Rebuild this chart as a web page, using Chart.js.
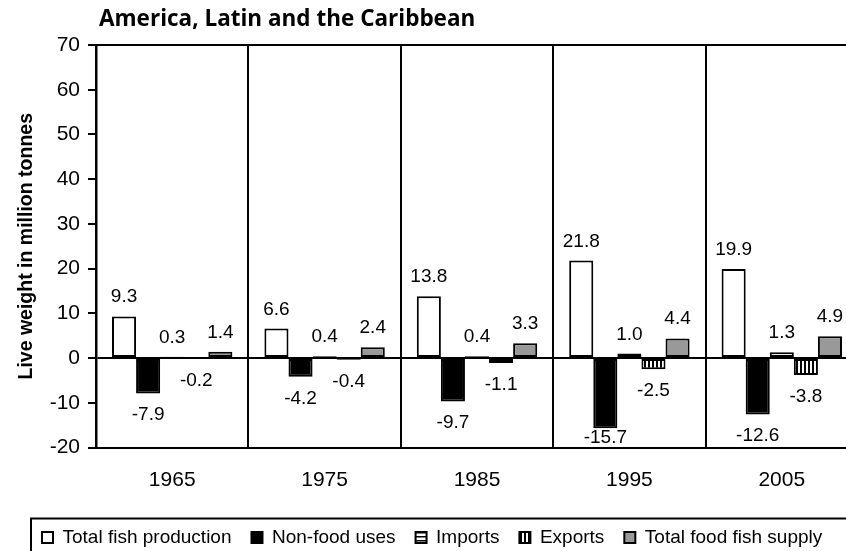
<!DOCTYPE html>
<html><head><meta charset="utf-8">
<script src="https://cdn.jsdelivr.net/npm/chart.js@4.4.0/dist/chart.umd.min.js"></script>
<style>
html,body{margin:0;padding:0;background:#fff;overflow:hidden;width:846px;height:551px;}
#wrap{position:absolute;left:0;top:0;width:900px;height:580px;}
#title{position:absolute;left:99px;top:3px;font-family:"Open Sans",sans-serif;font-weight:700;font-size:22.5px;color:#000;white-space:nowrap;line-height:30px;}
</style></head><body>
<div id="wrap"><canvas id="c"></canvas></div>
<div id="title">America, Latin and the Caribbean</div>
<script>
const years = ['1965', '1975', '1985', '1995', '2005'];
const totalProduction = [9.3, 6.6, 13.8, 21.8, 19.9];
const nonFoodUses = [-7.9, -4.2, -9.7, -15.7, -12.6];
const importsData = [0.3, 0.4, 0.4, 1.0, 1.3];
const exportsData = [-0.2, -0.4, -1.1, -2.5, -3.8];
const foodSupply = [1.4, 2.4, 3.3, 4.4, 4.9];
const seriesNames = ['Total fish production', 'Non-food uses', 'Imports', 'Exports', 'Total food fish supply'];
const yMin = -20, yMax = 70, yStep = 10;

Chart.defaults.font.family = "'Liberation Sans', Arial, sans-serif";
Chart.defaults.color = '#000';

const canvas = document.getElementById('c');
const mainCtx = canvas.getContext('2d');
function stripes(dir) {
  const p = document.createElement('canvas');
  p.width = 4; p.height = 4;
  const g = p.getContext('2d');
  g.fillStyle = '#fff'; g.fillRect(0, 0, 4, 4);
  g.fillStyle = '#000';
  if (dir === 'h') g.fillRect(0, 0, 4, 1.5); else g.fillRect(0, 0, 2, 4);
  return mainCtx.createPattern(p, 'repeat');
}
const hPattern = stripes('h');
const vPattern = stripes('v');

const fills = ['#ffffff', '#000000', hPattern, vPattern, '#999999'];
const values = [totalProduction, nonFoodUses, importsData, exportsData, foodSupply];

const frame = {
  id: 'frame',
  afterDraw(chart) {
    const {ctx, chartArea: a} = chart;
    ctx.save();
    ctx.strokeStyle = '#000';
    ctx.lineWidth = 2;
    ctx.beginPath();
    ctx.moveTo(a.left, a.top); ctx.lineTo(a.right, a.top); ctx.lineTo(a.right, a.bottom);
    ctx.stroke();
    const l = chart.legend;
    ctx.strokeRect(l.left + 9, l.top + 10.5, 2000, 300);
    ctx.restore();
  }
};

const dataLabels = {
  id: 'dataLabels',
  afterDatasetsDraw(chart) {
    const ctx = chart.ctx;
    const bottom = chart.chartArea.bottom;
    ctx.save();
    ctx.font = "19px 'Liberation Sans', Arial, sans-serif";
    ctx.fillStyle = '#000';
    ctx.textAlign = 'center';
    ctx.textBaseline = 'alphabetic';
    chart.data.datasets.forEach((ds, i) => {
      const meta = chart.getDatasetMeta(i);
      meta.data.forEach((bar, j) => {
        const v = ds.data[j];
        const y = v >= 0 ? bar.y - 14 : Math.min(bar.y + 27, bottom - 5);
        ctx.fillText(v.toFixed(1), bar.x, y);
      });
    });
    ctx.restore();
  }
};

new Chart(canvas, {
  type: 'bar',
  data: {
    labels: years,
    datasets: values.map((d, i) => ({
      label: seriesNames[i],
      data: d,
      backgroundColor: fills[i],
      borderColor: '#000',
      borderWidth: 2,
      borderSkipped: false,
      categoryPercentage: 0.79,
      barPercentage: 1
    }))
  },
  options: {
    responsive: true,
    maintainAspectRatio: false,
    animation: false,
    layout: {padding: {left: 22, right: 42, top: 45, bottom: 23}},
    plugins: {
      legend: {
        position: 'bottom', align: 'start',
        labels: {font: {size: 19}, color: '#000', boxWidth: 11, boxHeight: 11, padding: 20}
      },
      tooltip: {enabled: false}
    },
    scales: {
      x: {
        grid: {offset: true, color: '#000', lineWidth: 2, drawTicks: false},
        border: {display: true, color: '#000', width: 2},
        ticks: {font: {size: 21}, color: '#000', padding: 20, maxRotation: 0},
        afterFit(s) { s.height = 60.5; }
      },
      y: {
        min: yMin, max: yMax,
        ticks: {stepSize: yStep, font: {size: 21}, color: '#000', padding: 8},
        grid: {
          color: c => (c.tick && c.tick.value === 0) ? '#000' : 'rgba(0,0,0,0)',
          lineWidth: 2, tickColor: '#000', tickLength: 8, tickWidth: 2
        },
        border: {display: true, color: '#000', width: 2.5},
        title: {display: true, text: 'Live weight in million tonnes', font: {size: 19.5, weight: 'bold'}, color: '#000', padding: {top: -7, bottom: 0}},
        afterFit(s) { s.width = 74; }
      }
    }
  },
  plugins: [frame, dataLabels]
});
</script>
</body></html>
